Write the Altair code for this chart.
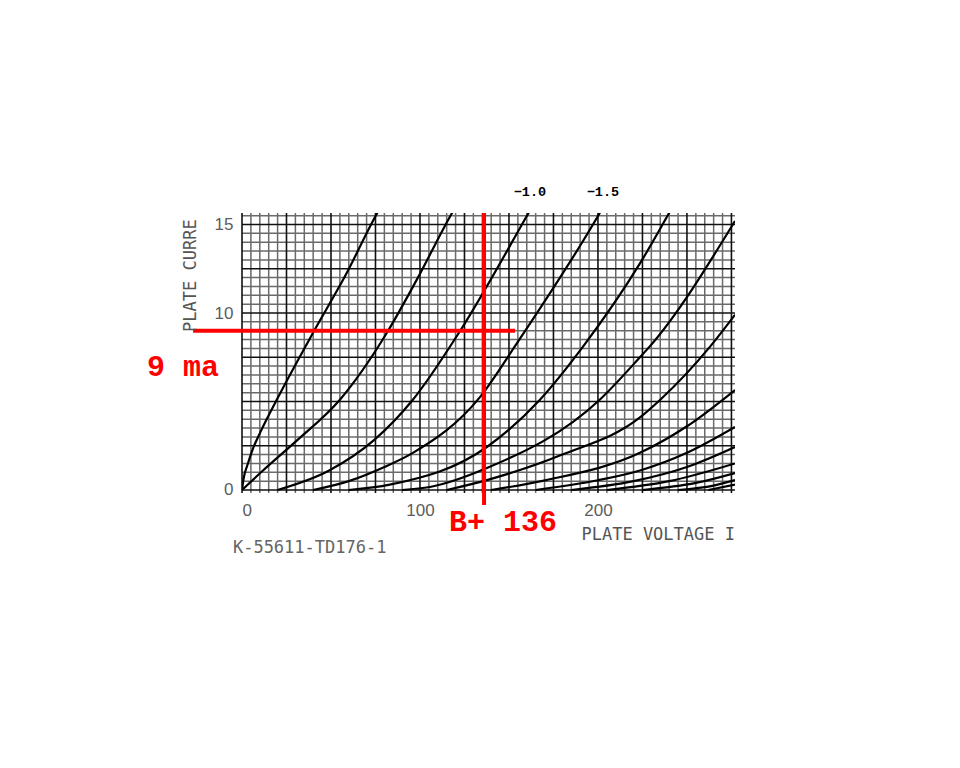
import altair as alt
import pandas as pd

# ---- data ----
grid_bias = ["0", "-0.5", "-1.0", "-1.5", "-2.0", "-2.5", "-3.0", "-3.5",
             "-4.0", "-4.5", "-5.0", "-5.5", "-6.0", "-6.5"]
curve_v = [
    [0, 1, 3, 6, 10, 18.5, 40, 58, 76, 78],
    [0, 11.8, 30.9, 55, 81.5, 98.3, 118, 120],
    [20, 49, 74, 96, 122, 161, 163],
    [40, 60, 80, 96, 133.7, 154.5, 201, 203],
    [60, 83, 137.6, 167.4, 191.6, 223.6, 240, 242],
    [90, 105.6, 137.6, 201, 223.6, 229, 277],
    [115, 137.6, 180, 223.6, 235, 263, 277],
    [140, 171, 223.6, 250, 277],
    [165, 200, 223.6, 250, 277],
    [185, 220, 250, 277],
    [205, 240, 277],
    [225, 255, 277],
    [245, 265, 277],
    [262, 277],
]
curve_ma = [
    [0, 0.7, 1.4, 2.3, 3.2, 4.9, 8.9, 12.1, 15.65, 16.0],
    [0, 1.1, 2.8, 5.1, 8.9, 11.9, 15.65, 16.0],
    [0, 1.1, 2.8, 5.1, 8.9, 15.65, 16.0],
    [0, 0.5, 1.3, 2.1, 5.25, 8.3, 15.65, 16.0],
    [0, 0.3, 2.43, 5.1, 8.1, 12.8, 15.65, 16.0],
    [0, 0.17, 1.24, 5.1, 7.5, 8.1, 15.2],
    [0, 0.56, 2.0, 4.1, 5.1, 8.1, 9.9],
    [0, 0.56, 2.1, 3.6, 5.65],
    [0, 0.55, 1.1, 2.1, 3.56],
    [0, 0.5, 1.3, 2.43],
    [0, 0.5, 1.5],
    [0, 0.4, 0.96],
    [0, 0.25, 0.56],
    [0, 0.3],
]
x_tick_values = [0, 100, 200]
y_tick_values = [0, 10, 15]
operating_ma = 9.0
operating_b_plus = 136
bias_labels = ["\u22121.0", "\u22121.5"]
bias_label_v = [161.8, 202.8]

X_DOMAIN = [0, 277]
Y_DOMAIN = [-0.17, 15.65]

rows = []
for name, xs, ys in zip(grid_bias, curve_v, curve_ma):
    for i, (xv, yv) in enumerate(zip(xs, ys)):
        rows.append({"bias": name, "v": xv, "ma": yv, "idx": i})
curves = pd.DataFrame(rows)

xs_scale = alt.Scale(domain=X_DOMAIN, nice=False, zero=False)
ys_scale = alt.Scale(domain=Y_DOMAIN, nice=False, zero=False)
x_axis = alt.Axis(values=x_tick_values, title=None, domain=False, ticks=False, tickSize=0,
                  grid=False, labelColor="#5c5c5c", labelFont="Liberation Sans",
                  labelFontSize=17, labelPadding=9)
y_axis = alt.Axis(values=y_tick_values, title=None, domain=False, ticks=False, tickSize=0,
                  grid=False, labelColor="#5c5c5c", labelFont="Liberation Sans",
                  labelFontSize=17, labelPadding=9)


def X(field):
    return alt.X(field, scale=xs_scale, axis=x_axis)


def Y(field):
    return alt.Y(field, scale=ys_scale, axis=y_axis)


vgrid = pd.DataFrame({"v": [5 * i for i in range(0, 56)]})
vgrid["major"] = vgrid["v"] % 25 == 0
hgrid = pd.DataFrame({"ma": [0.5 * i for i in range(0, 32)]})
hgrid["major"] = (hgrid["ma"] * 2) % 5 == 0

vminor = alt.Chart(vgrid[~vgrid["major"]]).mark_rule(color="#6a6a6a", strokeWidth=1.5).encode(x=X("v:Q"))
vmajor = alt.Chart(vgrid[vgrid["major"]]).mark_rule(color="#111111", strokeWidth=1.6).encode(x=X("v:Q"))
hminor = alt.Chart(hgrid[~hgrid["major"]]).mark_rule(color="#6a6a6a", strokeWidth=1.5).encode(y=Y("ma:Q"))
hmajor = alt.Chart(hgrid[hgrid["major"]]).mark_rule(color="#111111", strokeWidth=1.6).encode(y=Y("ma:Q"))

lines = alt.Chart(curves).mark_line(color="#000000", strokeWidth=2.2, interpolate="monotone", clip=True).encode(
    x=X("v:Q"), y=Y("ma:Q"), detail="bias:N", order="idx:Q",
)

red_h = alt.Chart(pd.DataFrame({"x1": [-27.5], "x2": [153.4], "y": [operating_ma]})).mark_rule(
    color="#ff0000", strokeWidth=4, clip=False).encode(x=X("x1:Q"), x2="x2:Q", y=Y("y:Q"))
red_v = alt.Chart(pd.DataFrame({"x": [operating_b_plus], "y1": [15.65], "y2": [-0.85]})).mark_rule(
    color="#ff0000", strokeWidth=4, clip=False).encode(x=X("x:Q"), y=Y("y1:Q"), y2="y2:Q")

red_text = alt.Chart(pd.DataFrame({
    "x": [-53.4, 116.3], "y": [6.44, -2.32],
    "t": [f"{operating_ma:.0f} ma", f"B+ {operating_b_plus}"]})).mark_text(
    color="#ff0000", font="Liberation Mono", fontWeight="bold", fontSize=30,
    align="left", baseline="alphabetic", clip=False).encode(x=X("x:Q"), y=Y("y:Q"), text="t:N")

bias_text = alt.Chart(pd.DataFrame({"x": bias_label_v, "y": [16.84, 16.84], "t": bias_labels})).mark_text(
    color="#000000", font="Liberation Mono", fontWeight="bold", fontSize=13.5,
    align="center", baseline="middle", clip=False).encode(x=X("x:Q"), y=Y("y:Q"), text="t:N")

volt_title = alt.Chart(pd.DataFrame({"x": [277], "y": [-2.54], "t": ["PLATE VOLTAGE I"]})).mark_text(
    color="#555555", font="DejaVu Sans Mono", fontSize=17, align="right", baseline="middle",
    clip=False).encode(x=X("x:Q"), y=Y("y:Q"), text="t:N")

code_text = alt.Chart(pd.DataFrame({"x": [-5.1], "y": [-3.28], "t": ["K-55611-TD176-1"]})).mark_text(
    color="#666666", font="DejaVu Sans Mono", fontSize=17, align="left", baseline="middle",
    clip=False).encode(x=X("x:Q"), y=Y("y:Q"), text="t:N")

cur_title = alt.Chart(pd.DataFrame({"x": [-28.7], "y": [8.93], "t": ["PLATE CURRE"]})).mark_text(
    color="#555555", font="DejaVu Sans Mono", fontSize=17, angle=270, align="left", baseline="middle",
    clip=False).encode(x=X("x:Q"), y=Y("y:Q"), text="t:N")

chart = alt.layer(
    vminor, hminor, vmajor, hmajor, lines, red_h, red_v, red_text, bias_text, volt_title, code_text, cur_title
).properties(
    width=493, height=280,
    autosize=alt.AutoSizeParams(type="none"),
    padding={"left": 234, "top": 205, "right": 40, "bottom": 100},
).configure_view(stroke=None)

chart.save("out.html", embed_options={"renderer": "svg", "actions": False})
